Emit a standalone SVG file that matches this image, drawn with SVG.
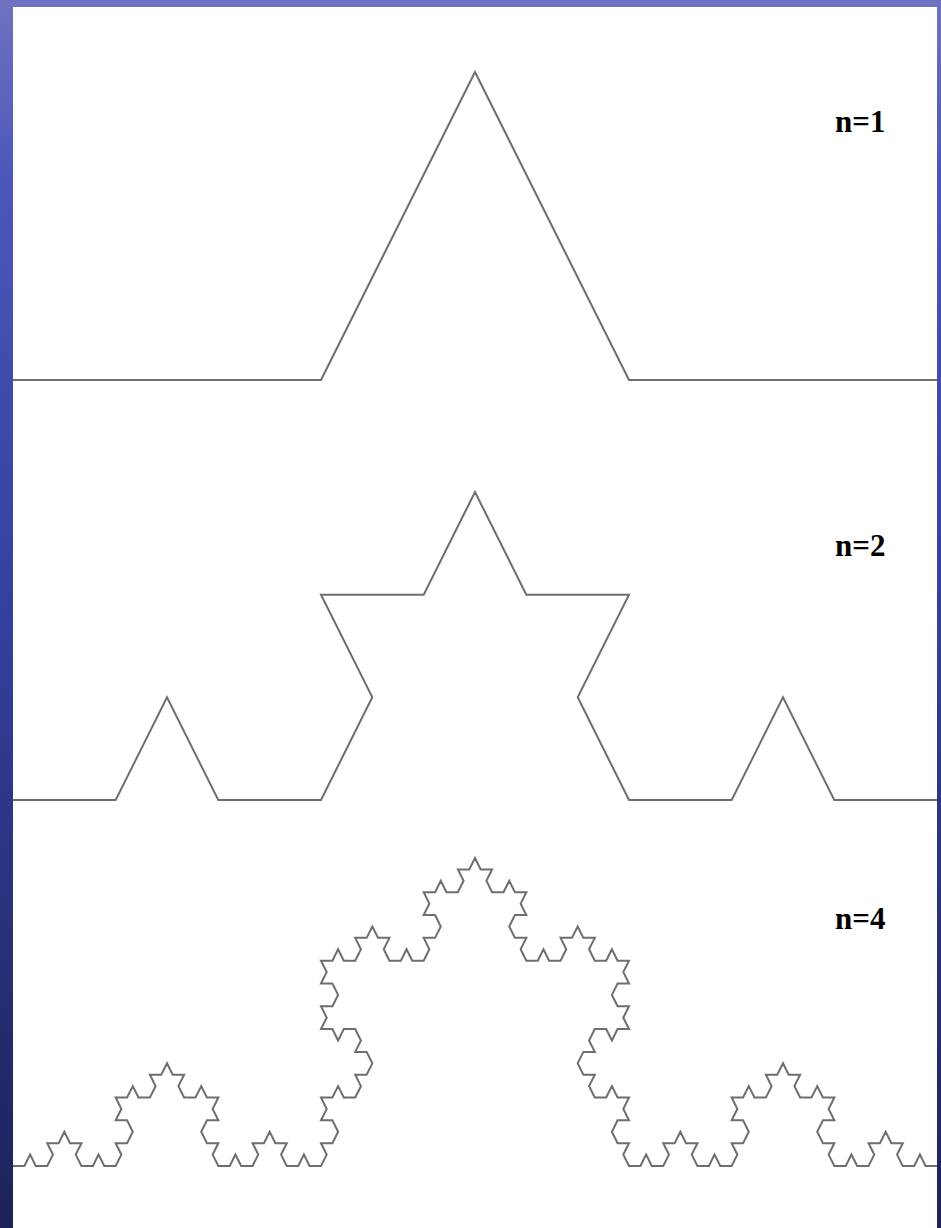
<svg xmlns="http://www.w3.org/2000/svg" width="941" height="1228" viewBox="0 0 941 1228">
<defs>
<linearGradient id="bg" x1="0" y1="0" x2="0" y2="1">
<stop offset="0" stop-color="#6f72c0"/>
<stop offset="0.15" stop-color="#4a56ba"/>
<stop offset="0.5" stop-color="#34409e"/>
<stop offset="1" stop-color="#1c2258"/>
</linearGradient>
<style>
.curve{fill:none;stroke:#6e6e6e;stroke-width:2;stroke-linejoin:miter;vector-effect:non-scaling-stroke}
.lbl{font-family:"Liberation Serif","Times New Roman",serif;font-weight:bold;font-size:31px;fill:#000}
</style>
</defs>
<g id="background">
<rect x="0" y="0" width="941" height="1228" fill="url(#bg)"/>
<rect x="13" y="7" width="924" height="1221" fill="#ffffff"/>
</g>
<g id="curve-n1">
<polyline class="curve" points="13,380 321,380 475,72 629,380 937,380"/>
</g>
<g id="curve-n2">
<polyline class="curve" points="13,800 115.7,800 167,697.3 218.3,800 321,800 372.3,697.3 321,594.7 423.7,594.7 475,492 526.3,594.7 629,594.7 577.7,697.3 629,800 731.7,800 783,697.3 834.3,800 937,800"/>
</g>
<g id="curve-n4">
<path class="curve" transform="translate(13,1166) scale(5.7037)" d="M0 0 l2 0 1-2 1 2 2 0 1-2-1-2 2 0 1-2 1 2 2 0-1 2 1 2 2 0 1-2 1 2 2 0 1-2-1-2 2 0 1-2-1-2-2 0 1-2-1-2 2 0 1-2 1 2 2 0 1-2-1-2 2 0 1-2 1 2 2 0-1 2 1 2 2 0 1-2 1 2 2 0-1 2 1 2-2 0-1 2 1 2 2 0-1 2 1 2 2 0 1-2 1 2 2 0 1-2-1-2 2 0 1-2 1 2 2 0-1 2 1 2 2 0 1-2 1 2 2 0 1-2-1-2 2 0 1-2-1-2-2 0 1-2-1-2 2 0 1-2 1 2 2 0 1-2-1-2 2 0 1-2 -1-2-2 0 1-2-1-2-2 0-1 2-1-2-2 0 1-2-1-2 2 0 1-2-1-2-2 0 1-2-1-2 2 0 1-2 1 2 2 0 1-2-1-2 2 0 1-2 1 2 2 0-1 2 1 2 2 0 1-2 1 2 2 0 1-2-1-2 2 0 1-2-1-2-2 0 1-2-1-2 2 0 1-2 1 2 2 0 1-2-1-2 2 0 1-2 1 2 2 0-1 2 1 2 2 0 1-2 1 2 2 0-1 2 1 2-2 0-1 2 1 2 2 0-1 2 1 2 2 0 1-2 1 2 2 0 1-2-1-2 2 0 1-2 1 2 2 0-1 2 1 2 2 0 1-2 1 2 2 0 -1 2 1 2-2 0-1 2 1 2 2 0-1 2 1 2-2 0-1 2-1-2-2 0-1 2 1 2-2 0-1 2 1 2 2 0-1 2 1 2 2 0 1-2 1 2 2 0-1 2 1 2-2 0-1 2 1 2 2 0-1 2 1 2 2 0 1-2 1 2 2 0 1-2-1-2 2 0 1-2 1 2 2 0-1 2 1 2 2 0 1-2 1 2 2 0 1-2-1-2 2 0 1-2-1-2-2 0 1-2-1-2 2 0 1-2 1 2 2 0 1-2-1-2 2 0 1-2 1 2 2 0-1 2 1 2 2 0 1-2 1 2 2 0-1 2 1 2-2 0-1 2 1 2 2 0-1 2 1 2 2 0 1-2 1 2 2 0 1-2-1-2 2 0 1-2 1 2 2 0-1 2 1 2 2 0 1-2 1 2 2 0"/>
</g>
<g id="labels">
<text class="lbl" x="835" y="132">n=1</text>
<text class="lbl" x="835" y="556">n=2</text>
<text class="lbl" x="835" y="929">n=4</text>
</g>
</svg>
